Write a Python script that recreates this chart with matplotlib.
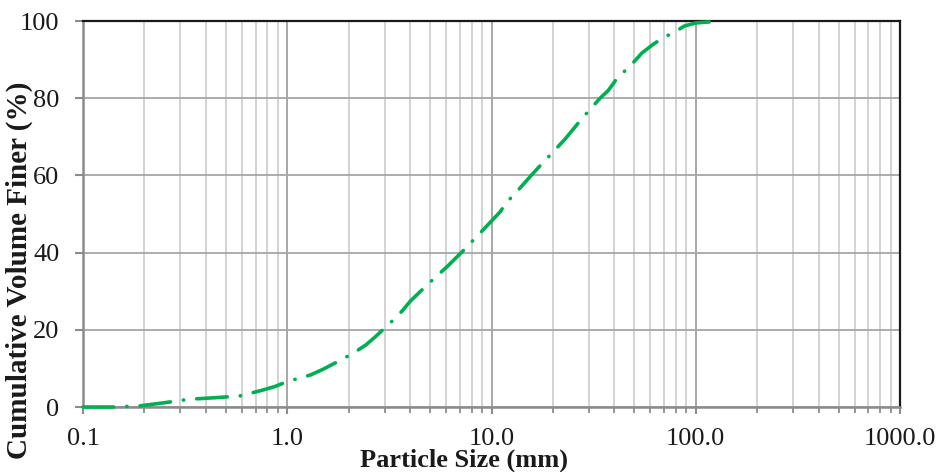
import matplotlib
matplotlib.use("Agg")
import matplotlib.pyplot as plt
from matplotlib.ticker import LogLocator, FixedLocator, NullFormatter, FixedFormatter

# Data
size_mm = [0.1, 0.14, 0.19, 0.25, 0.33, 0.44, 0.50, 0.59, 0.76, 0.87, 1.0, 1.3, 1.5,
           1.7, 2.1, 2.43, 2.7, 3.3, 3.67, 4.0, 4.9, 5.47, 6.1, 7.4, 8.2, 9.1, 11.0,
           11.9, 13.2, 15.9, 17.5, 19.4, 23.0, 28.0, 34.0, 37.3, 41.0, 49.0, 54.5,
           62.0, 70.0, 78.0, 88.0, 100.0, 134.0]
finer_pct = [0.0, 0.0, 0.3, 1.1, 2.0, 2.4, 2.6, 2.9, 4.4, 5.3, 6.6, 8.3, 9.8,
             11.3, 13.9, 16.1, 18.2, 22.5, 25.0, 27.4, 31.9, 34.2, 36.5, 40.9, 43.4, 45.9, 50.5,
             53.1, 55.6, 60.4, 62.8, 65.3, 69.5, 75.0, 80.0, 82.0, 85.0, 89.0, 91.7,
             94.0, 95.8, 97.0, 98.7, 99.5, 100.0]

x_ticks = [0.1, 1, 10, 100, 1000]
x_tick_labels = ["0.1", "1.0", "10.0", "100.0", "1000.0"]
y_ticks = [0, 20, 40, 60, 80, 100]

plt.rcParams['font.family'] = ['Liberation Serif', 'DejaVu Serif']

fig = plt.figure(figsize=(9.41, 4.72), dpi=100)
ax = fig.add_axes([83/941, 1-407/472, (900-83)/941, (407-21)/472])

ax.set_xscale('log')
ax.set_xlim(0.1, 1000)
ax.set_ylim(0, 100)

ax.xaxis.set_major_locator(FixedLocator(x_ticks))
ax.xaxis.set_major_formatter(FixedFormatter(x_tick_labels))
ax.xaxis.set_minor_locator(LogLocator(base=10, subs=range(2, 10), numticks=20))
ax.xaxis.set_minor_formatter(NullFormatter())
ax.set_yticks(y_ticks)

ax.grid(which='major', axis='x', color='#A0A0A0', lw=1.3)
ax.grid(which='minor', axis='x', color='#D0D0D0', lw=1.3)
ax.grid(which='major', axis='y', color='#A6A6A6', lw=1.3)
ax.set_axisbelow(True)

line, = ax.plot(size_mm, finer_pct, color='#00B050', lw=2.6,
                dashes=(8.5, 3.6, 0.1, 3.6), dash_capstyle='round', zorder=3,
                clip_on=False)

for s in ['left', 'bottom']:
    ax.spines[s].set_color('#8C8C8C')
    ax.spines[s].set_linewidth(1.8)
for s in ['top', 'right']:
    ax.spines[s].set_color('#1A1A1A')
    ax.spines[s].set_linewidth(1.6)

ax.tick_params(axis='both', which='major', direction='out', color='#8C8C8C',
               width=1.5, labelsize=19, labelcolor='#1A1A1A')
ax.tick_params(axis='y', which='major', length=6, pad=11)
ax.tick_params(axis='x', which='major', length=5, pad=10)
ax.tick_params(axis='x', which='minor', direction='out', length=4,
               color='#8C8C8C', width=1.3)

ax.set_xlabel('Particle Size (mm)', fontsize=19, fontweight='bold',
              color='#1A1A1A')
ax.xaxis.set_label_coords((464-83)/817, (407-449)/386)
ax.set_ylabel('Cumulative Volume Finer (%)', fontsize=21, fontweight='bold',
              color='#1A1A1A')
ax.yaxis.set_label_coords((33-83)/817, (407-270)/386)

fig.savefig('out.png', dpi=100)
